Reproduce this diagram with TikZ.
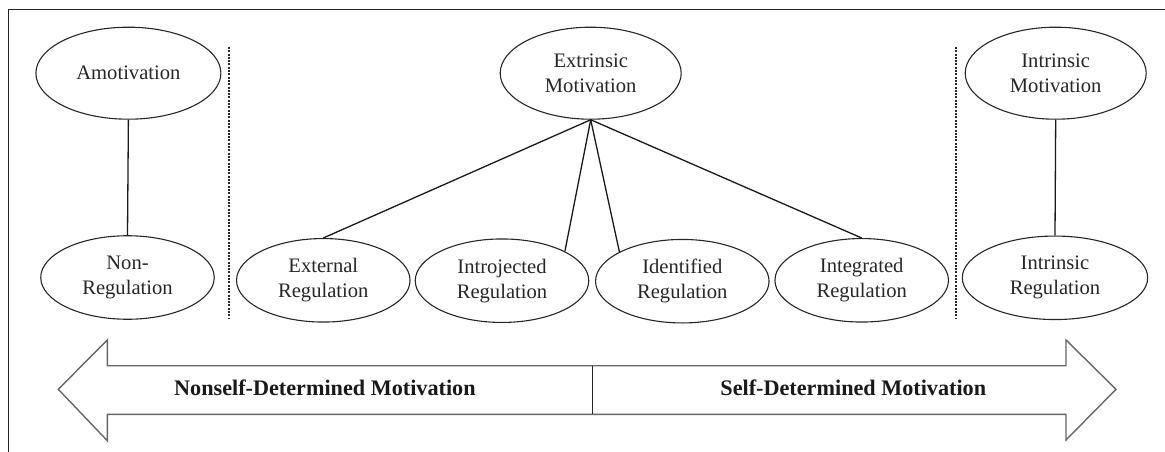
\documentclass[tikz,border=0pt]{standalone}
\usepackage{fontspec}
\setmainfont{Liberation Serif}
\usetikzlibrary{shapes.geometric}
\begin{document}
\begin{tikzpicture}[x=1pt,y=-1pt,
  ell/.style={draw=black!85, line width=1.1pt, ellipse, inner sep=0pt, align=center,
    font=\fontsize{20.6}{25}\selectfont, text=black!85},
  topell/.style={ell, minimum width=181pt, minimum height=92pt},
  botell/.style={ell, minimum width=173.5pt, minimum height=83.5pt},
  conn/.style={draw=black!90, line width=1.3pt},
  divider/.style={draw=black!85, line width=1.4pt, dash pattern=on 2pt off 1.3pt},
  bigarrow/.style={draw=black!60, line width=1.4pt, fill=white},
  arrowtext/.style={font=\fontsize{22.2}{26}\selectfont\bfseries, text=black!90, inner sep=0pt}]
\useasboundingbox (0,0) rectangle (1165,452);
% frame (top and left only)
\draw[black!85, line width=1pt] (8,452) -- (8,10) -- (1165,10);

% top row
\node[topell, minimum width=185pt] (amot) at (128.4,73.2) {Amotivation};
\node[topell] (extr) at (590.7,73.2) {Extrinsic\\Motivation};
\node[topell] (intrm) at (1055.7,73.2) {Intrinsic\\Motivation};

% bottom row
\node[botell] (nonreg) at (127.5,277.5) {Non-\\Regulation};
\node[botell] (extreg) at (323.3,280.3) {External\\Regulation};
\node[botell] (intro) at (502,280.7) {Introjected\\Regulation};
\node[botell] (ident) at (682.3,281.2) {Identified\\Regulation};
\node[botell] (integ) at (861.7,280.3) {Integrated\\Regulation};
\node[botell, minimum width=185.4pt] (intrreg) at (1055,277.8) {Intrinsic\\Regulation};

% connectors
\draw[conn] (amot.south) -- (nonreg.north);
\draw[conn] (extr.south) -- (extreg.north);
\draw[conn] (extr.south) -- (intro.25);
\draw[conn] (extr.south) -- (ident.155);
\draw[conn] (extr.south) -- (integ.north);
\draw[conn] (intrm.south) -- (intrreg.north);

% dotted dividers
\coordinate (d1t) at (229,47);
\coordinate (d1b) at (229,319);
\coordinate (d2t) at (956,47);
\coordinate (d2b) at (956,318);
\draw[divider] (d1t) -- (d1b);
\draw[divider] (d2t) -- (d2b);

% double arrow
\draw[bigarrow, line join=miter]
  (58.3,389.3) -- (107.3,340) -- (107.3,365.7) -- (1066,365.7) -- (1066,340)
  -- (1116,389.3) -- (1066,440) -- (1066,414.3) -- (107.3,414.3) -- (107.3,440.7) -- cycle;
\coordinate (mtop) at (592.5,365.7);
\coordinate (mbot) at (592.5,414.3);
\draw[black!85, line width=1.6pt] (mtop) -- (mbot);
\node[arrowtext, anchor=base] (nsdm) at (324.9,395.7) {Nonself-Determined Motivation};
\node[arrowtext, anchor=base] (sdm) at (853.3,395.7) {Self-Determined Motivation};
\end{tikzpicture}
\end{document}
